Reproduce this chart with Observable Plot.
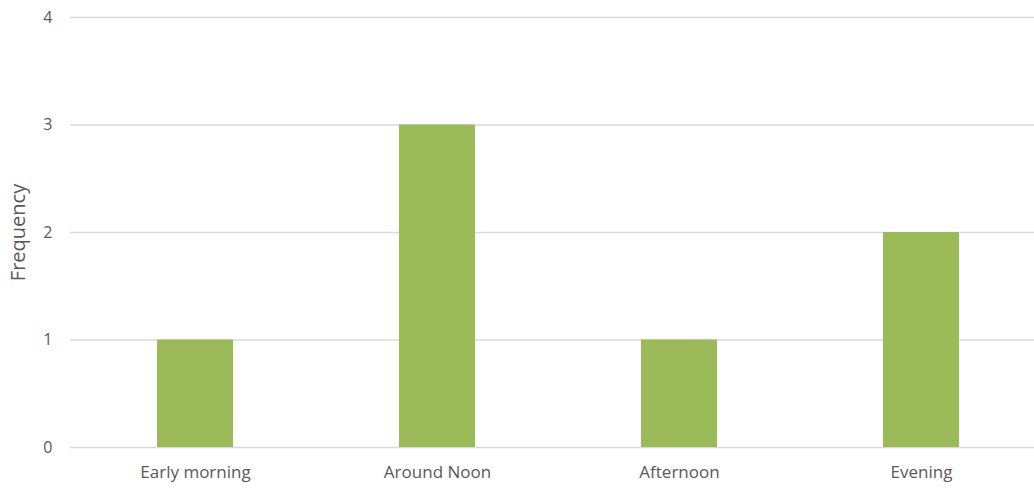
<!DOCTYPE html>
<html>
<head>
<meta charset="utf-8">
<script src="https://cdn.jsdelivr.net/npm/d3@7"></script>
<script src="https://cdn.jsdelivr.net/npm/@observablehq/plot@0.6"></script>
<style>
  html, body { margin: 0; padding: 0; background: #fff; }
  #chart { width: 1034px; height: 489px; overflow: hidden; }
</style>
</head>
<body>
<div id="chart"></div>
<script>
const categories = ["Early morning", "Around Noon", "Afternoon", "Evening"];
const frequencies = [1, 3, 1, 2];
const yTicks = [0, 1, 2, 3, 4];
const yTitle = "Frequency";

const data = categories.map((c, i) => ({category: c, frequency: frequencies[i]}));

const chart = Plot.plot({
  width: 1034,
  height: 489,
  marginLeft: 70,
  marginRight: 0,
  marginTop: 17,
  marginBottom: 42,
  style: {fontFamily: "'Open Sans', sans-serif", fontSize: "17px", color: "#595959", background: "#fff"},
  x: {domain: categories, range: [72.4, 1043.6], paddingInner: 0.687, paddingOuter: 0.3435, label: null},
  y: {domain: [0, 4], ticks: yTicks, label: null},
  marks: [
    Plot.ruleY(yTicks, {stroke: "#d9d9d9", strokeWidth: 1.3}),
    Plot.barY(data, {x: "category", y: "frequency", fill: "#9bbb59"}),
    Plot.axisY({ticks: yTicks, tickSize: 0, tickPadding: 18, tickFormat: d3.format("d"), fontSize: 16, label: null}),
    Plot.axisX({tickSize: 0, tickPadding: 18, fontSize: 17, label: null}),
    Plot.text([yTitle], {frameAnchor: "left", textAnchor: "middle", rotate: -90, dx: -52, fontSize: 20, fill: "#595959", text: d => d})
  ]
});
document.getElementById("chart").appendChild(chart);
</script>
</body>
</html>
